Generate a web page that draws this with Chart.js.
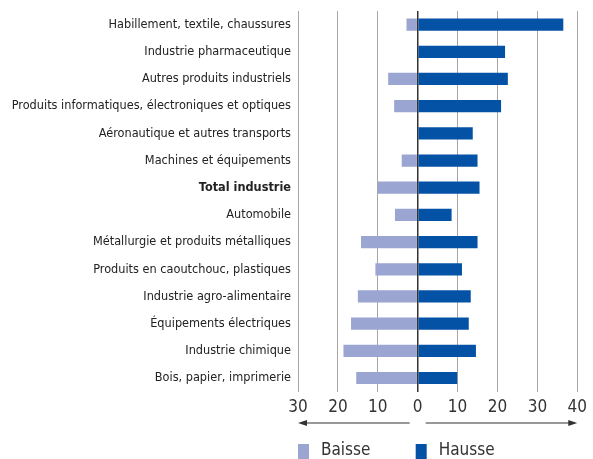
<!DOCTYPE html>
<html>
<head>
<meta charset="utf-8">
<script src="https://cdn.jsdelivr.net/npm/chart.js@4"></script>
<style>
  html, body { margin: 0; padding: 0; background: #fff; }
  #wrap { width: 593px; height: 459px; position: relative; }
</style>
</head>
<body>
<div id="wrap"><canvas id="secteurs"></canvas></div>
<script>
const categories = [
    'Habillement, textile, chaussures',
    'Industrie pharmaceutique',
    'Autres produits industriels',
    'Produits informatiques, électroniques et optiques',
    'Aéronautique et autres transports',
    'Machines et équipements',
    'Total industrie',
    'Automobile',
    'Métallurgie et produits métalliques',
    'Produits en caoutchouc, plastiques',
    'Industrie agro-alimentaire',
    'Équipements électriques',
    'Industrie chimique',
    'Bois, papier, imprimerie'
];
const baisse = [-2.8, -0.2, -7.4, -5.9, -0.2, -4.0, -10.0, -5.7, -14.2, -10.6, -15.0, -16.7, -18.6, -15.4];
const hausse = [36.5, 21.9, 22.6, 20.9, 13.8, 15.0, 15.5, 8.5, 15.0, 11.1, 13.3, 12.8, 14.6, 9.9];
const xTicks = [-30, -20, -10, 0, 10, 20, 30, 40];

const fontFamily = '"DejaVu Sans Condensed", "Liberation Sans Narrow", sans-serif';
const textColor = '#333';

// arrows under the axis + legend, drawn by hand
const extrasPlugin = {
    id: 'extras',
    afterDraw(chart) {
        const ctx = chart.ctx;
        const x = chart.scales.x;
        const zero = x.getPixelForValue(0);
        const left = x.getPixelForValue(xTicks[0]);
        const right = x.getPixelForValue(xTicks[xTicks.length - 1]);
        const ay = 423;

        ctx.save();
        ctx.strokeStyle = '#333';
        ctx.fillStyle = '#333';
        ctx.lineWidth = 1;
        ctx.beginPath();
        ctx.moveTo(zero - 8, ay);
        ctx.lineTo(left + 6, ay);
        ctx.moveTo(zero + 8, ay);
        ctx.lineTo(right - 6, ay);
        ctx.stroke();
        ctx.beginPath();
        ctx.moveTo(left, ay);
        ctx.lineTo(left + 9, ay - 3);
        ctx.lineTo(left + 9, ay + 3);
        ctx.closePath();
        ctx.moveTo(right, ay);
        ctx.lineTo(right - 9, ay - 3);
        ctx.lineTo(right - 9, ay + 3);
        ctx.closePath();
        ctx.fill();

        // legend
        const ly = 451;
        const starts = [left, zero - 2];
        chart.data.datasets.forEach(function(ds, i) {
            const sx = starts[i];
            ctx.fillStyle = ds.backgroundColor;
            ctx.fillRect(sx, ly - 7, 11, 15);
            ctx.fillStyle = textColor;
            ctx.font = '17px ' + fontFamily;
            ctx.textBaseline = 'middle';
            ctx.textAlign = 'left';
            ctx.fillText(ds.label, sx + 23, ly);
        });
        ctx.restore();
    }
};

const ctx = document.getElementById('secteurs').getContext('2d');
new Chart(ctx, {
    type: 'bar',
    data: {
        labels: categories,
        datasets: [{
            label: 'Baisse',
            data: baisse,
            backgroundColor: '#9aa5d2',
            barPercentage: 0.9,
            categoryPercentage: 0.5
        }, {
            label: 'Hausse',
            data: hausse,
            backgroundColor: '#0452a6',
            barPercentage: 0.9,
            categoryPercentage: 0.5
        }]
    },
    options: {
        indexAxis: 'y',
        responsive: true,
        maintainAspectRatio: false,
        animation: false,
        layout: {
            padding: { top: 11, right: 8, bottom: 35, left: 0 }
        },
        plugins: {
            legend: { display: false },
            tooltip: { enabled: false }
        },
        scales: {
            x: {
                stacked: true,
                min: -30,
                max: 40,
                afterBuildTicks: function(scale) {
                    scale.ticks = xTicks.map(function(v) { return { value: v }; });
                },
                grid: {
                    drawTicks: false,
                    color: function(c) { return c.tick && c.tick.value === 0 ? '#333' : '#a6a6a6'; },
                    lineWidth: function(c) { return c.tick && c.tick.value === 0 ? 1.5 : 1; }
                },
                border: { display: false },
                ticks: {
                    padding: 6,
                    color: textColor,
                    font: { family: fontFamily, size: 17 },
                    callback: function(v) { return Math.abs(v); }
                }
            },
            y: {
                stacked: true,
                afterFit: function(scale) {
                    scale.width = 298;
                    scale.paddingTop = 0;
                    scale.paddingBottom = 0;
                },
                grid: { display: false, drawTicks: false },
                border: { display: false },
                ticks: {
                    padding: 7,
                    color: '#222',
                    font: function(c) {
                        const bold = categories[c.index] === 'Total industrie';
                        return { family: fontFamily, size: 12.6, weight: bold ? 'bold' : 'normal' };
                    }
                }
            }
        }
    },
    plugins: [extrasPlugin]
});
</script>
</body>
</html>
